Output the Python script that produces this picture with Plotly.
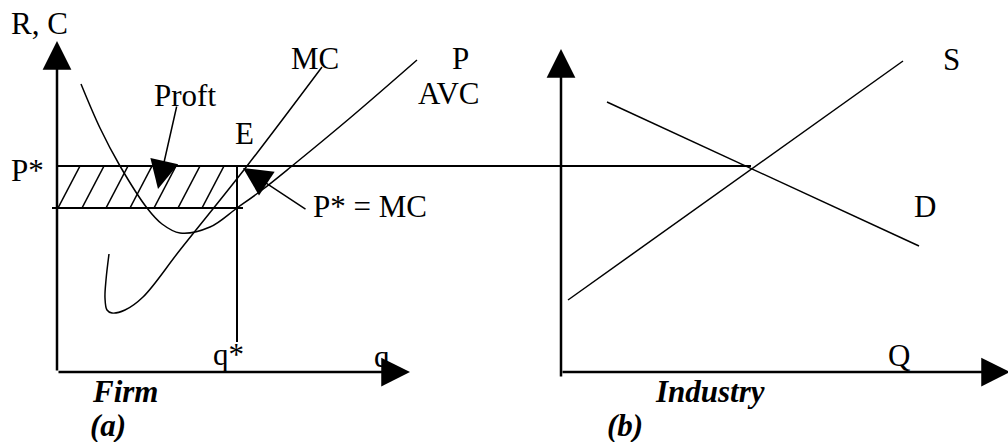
import plotly.graph_objects as go

# diagram units = picture pixels (x to the right, y downward)
p_star = 166          # market price P*
p_low = 208           # bottom of profit rectangle (average cost at q*)
q_star = 237          # firm output q*
firm_origin = (57, 372)
ind_origin = (561, 372)

# firm cost curves
avc_x = [81, 100, 120, 147, 162, 180, 210, 237, 262, 292, 350, 417]
avc_y = [84, 128, 166, 208, 224, 233, 227, 208, 190, 166, 118, 60]
mc_x = [109, 106, 105, 107, 112, 125, 143, 180, 247, 322]
mc_y = [254, 280, 298, 310, 313, 310, 297, 250, 166, 67]

# industry supply and demand
supply_x = [568, 903]
supply_y = [300, 61]
demand_x = [607, 919]
demand_y = [102, 246]
market_eq_x = 751

# hatching of the profit area (bottom x of each stroke)
hatch_bottom = [58, 82, 106, 130, 154, 178, 202]
hatch_run = 22

FONT = "Liberation Serif, Times New Roman, serif"
BLACK = "black"

fig = go.Figure()


def line(x, y, width=1.5, shape="linear"):
    fig.add_trace(go.Scatter(x=x, y=y, mode="lines", hoverinfo="skip",
                             line=dict(color=BLACK, width=width, shape=shape,
                                       smoothing=1.0)))


# profit rectangle and hatching
hx, hy = [], []
for b in hatch_bottom:
    hx += [b, b + hatch_run, None]
    hy += [p_low, p_star, None]
line(hx, hy, 1.6)
line([firm_origin[0] - 5, q_star + 6], [p_low, p_low], 2)
line([firm_origin[0], market_eq_x], [p_star, p_star], 2)
line([q_star, q_star], [p_star, 342], 2)

# curves
line(avc_x, avc_y, 1.5, "spline")
line(mc_x, mc_y, 1.5, "spline")
line(supply_x, supply_y, 1.5)
line(demand_x, demand_y, 1.5)

annotations = []


def arrow(x0, y0, x1, y1, width, size):
    annotations.append(dict(x=x1, y=y1, ax=x0, ay=y0, xref="x", yref="y",
                            axref="x", ayref="y", text="", showarrow=True,
                            arrowhead=2, arrowwidth=width, arrowsize=size,
                            arrowcolor=BLACK, standoff=0))


# axes with arrowheads
arrow(firm_origin[0], firm_origin[1], firm_origin[0], 41, 2.5, 2.3)
arrow(firm_origin[0], firm_origin[1], 410, firm_origin[1], 2.5, 2.3)
arrow(ind_origin[0], 378, ind_origin[0], 49, 2.5, 2.3)
arrow(ind_origin[0], ind_origin[1], 1010, ind_origin[1], 2.5, 2.3)

# pointer arrows
arrow(177, 105, 158, 189, 1.5, 3.8)
arrow(307, 210, 243, 168, 1.5, 3.8)


def label(x, y, text, bold=False):
    if bold:
        text = "<b><i>" + text + "</i></b>"
    annotations.append(dict(x=x, y=y, xref="x", yref="y", text=text,
                            showarrow=False, xanchor="left", yanchor="middle",
                            font=dict(family=FONT, size=31, color=BLACK)))


label(9, 23, "R, C")
label(289, 58, "MC")
label(450, 58, "P")
label(416, 93, "AVC")
label(152, 95, "Proft")
label(233, 133, "E")
label(9, 170, "P*")
label(311, 206, "P* = MC")
label(211, 354, "q*")
label(372, 356, "q")
label(941, 59, "S")
label(912, 206, "D")
label(886, 355, "Q")
label(90, 391, "Firm", True)
label(88, 425, "(a)", True)
label(653, 391, "Industry", True)
label(605, 425, "(b)", True)

fig.update_layout(
    width=1008, height=442,
    margin=dict(l=0, r=0, t=0, b=0),
    paper_bgcolor="white", plot_bgcolor="white",
    showlegend=False,
    annotations=annotations,
    xaxis=dict(range=[0, 1008], visible=False, fixedrange=True),
    yaxis=dict(range=[442, 0], visible=False, fixedrange=True),
)

fig.write_html("out.html", config={"displayModeBar": False},
               post_script="document.body.style.margin = '0';")
